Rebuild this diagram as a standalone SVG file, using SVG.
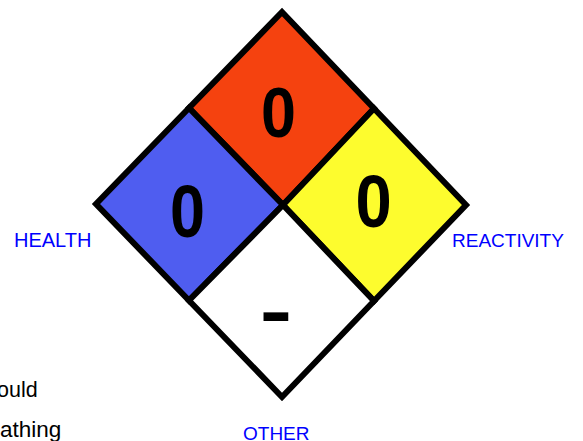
<svg xmlns="http://www.w3.org/2000/svg" width="583" height="441" viewBox="0 0 583 441">
<style>
.q{stroke:#000;stroke-width:6;stroke-linejoin:miter}
.num{font-family:"Liberation Sans",Arial,sans-serif;font-weight:bold;font-size:74px;fill:#000;text-anchor:middle}
.lbl{font-family:"Liberation Sans",Arial,sans-serif;font-size:19px;fill:#0000ff}
.txt{font-family:"Liberation Sans",Arial,sans-serif;font-size:21.5px;fill:#000}
</style>
<rect width="583" height="441" fill="#fff"/>
<g id="flammability">
<polygon class="q" fill="#f5420f" points="282,12 374,108.5 283,205 189,108"/>
<text class="num" transform="translate(278.5,137) scale(0.85,0.96)">0</text>
</g>
<g id="health">
<polygon class="q" fill="#4f5df0" points="189,108 283,205 189,300.5 96,204"/>
<text class="num" transform="translate(187.5,237) scale(0.85,1)">0</text>
</g>
<g id="reactivity">
<polygon class="q" fill="#fdfc2e" points="374,108.5 466,205 374,301 283,205"/>
<text class="num" transform="translate(373.5,227) scale(0.88,1)">0</text>
</g>
<g id="other">
<polygon class="q" fill="#fff" points="283,205 374,301 282,397 189,300.5"/>
<text class="num" style="font-size:50px" transform="translate(276,340) scale(1,1.75)">–</text>
</g>
<g id="labels">
<text class="lbl" x="14" y="247" style="font-size:20px">HEALTH</text>
<text class="lbl" x="452" y="247">REACTIVITY</text>
<text class="lbl" x="243" y="439.5">OTHER</text>
</g>
<g id="fragments">
<text class="txt" x="-3" y="397">ould</text>
<text class="txt" x="0" y="437" style="font-size:22.5px">athing</text>
</g>
</svg>
